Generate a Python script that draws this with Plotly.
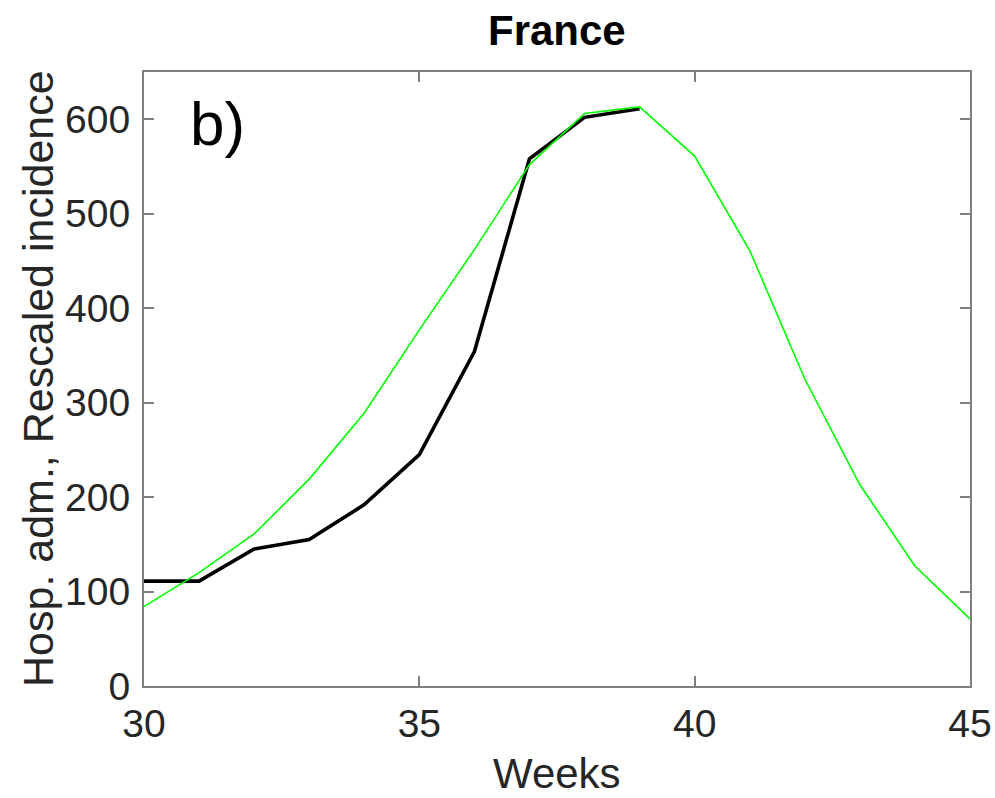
import plotly.graph_objects as go

weeks_obs = [30, 31, 32, 33, 34, 35, 36, 37, 38, 39]
hosp_adm = [111, 111, 145, 155, 192, 245, 354, 558, 602, 611]

weeks_model = [30, 31, 32, 33, 34, 35, 36, 37, 38, 39, 40, 41, 42, 43, 44, 45]
rescaled_inc = [84, 120, 161, 219, 289, 377, 462, 552, 606, 613, 561, 461, 325, 213, 127, 71]

x_ticks = [30, 35, 40, 45]
y_ticks = [0, 100, 200, 300, 400, 500, 600]

font_family = "Liberation Sans, Arial, sans-serif"
axis_col = "#808080"
text_col = "#262626"

fig = go.Figure()
fig.add_trace(go.Scatter(x=weeks_obs, y=hosp_adm, mode="lines",
                         line=dict(color="black", width=3.6), showlegend=False))
fig.add_trace(go.Scatter(x=weeks_model, y=rescaled_inc, mode="lines",
                         line=dict(color="#00ff00", width=1.6), showlegend=False))

fig.add_annotation(x=30.8, y=596, xref="x", yref="y", text="b)", showarrow=False,
                   xanchor="left", yanchor="middle",
                   font=dict(family=font_family, size=62, color="black"))

# title and axis titles
fig.add_annotation(x=0.5, y=1, xref="paper", yref="paper", text="<b>France</b>",
                   showarrow=False, xanchor="center", yanchor="middle", yshift=42,
                   font=dict(family=font_family, size=42, color="black"))
fig.add_annotation(x=0.5, y=0, xref="paper", yref="paper", text="Weeks",
                   showarrow=False, xanchor="center", yanchor="middle", yshift=-87,
                   font=dict(family=font_family, size=42, color=text_col))
fig.add_annotation(x=0, y=0.5, xref="paper", yref="paper",
                   text="Hosp. adm., Rescaled incidence", textangle=-90,
                   showarrow=False, xanchor="center", yanchor="middle",
                   xshift=-106, yshift=0,
                   font=dict(family=font_family, size=43, color=text_col))

fig.update_layout(
    width=995, height=798,
    paper_bgcolor="white", plot_bgcolor="white",
    margin=dict(l=144, r=25, t=72, b=112, autoexpand=False),
    xaxis=dict(range=[30, 45], tickvals=x_ticks, ticks="inside", ticklen=10,
               tickcolor=axis_col, tickwidth=1.5, showline=True, linecolor=axis_col,
               linewidth=2, mirror="ticks", showgrid=False, zeroline=False,
               ticklabelstandoff=2, ticklabeloverflow="allow", automargin=False,
               tickfont=dict(family=font_family, size=39, color=text_col)),
    yaxis=dict(range=[0, 650], tickvals=y_ticks, ticks="inside", ticklen=10,
               tickcolor=axis_col, tickwidth=1.5, showline=True, linecolor=axis_col,
               linewidth=2, mirror="ticks", showgrid=False, zeroline=False,
               ticklabelstandoff=4, automargin=False,
               tickfont=dict(family=font_family, size=39, color=text_col)),
)

fig.write_html("out.html",
               config={"displayModeBar": False},
               post_script="document.body.style.margin='0';"
                           "document.body.style.overflow='hidden';")
